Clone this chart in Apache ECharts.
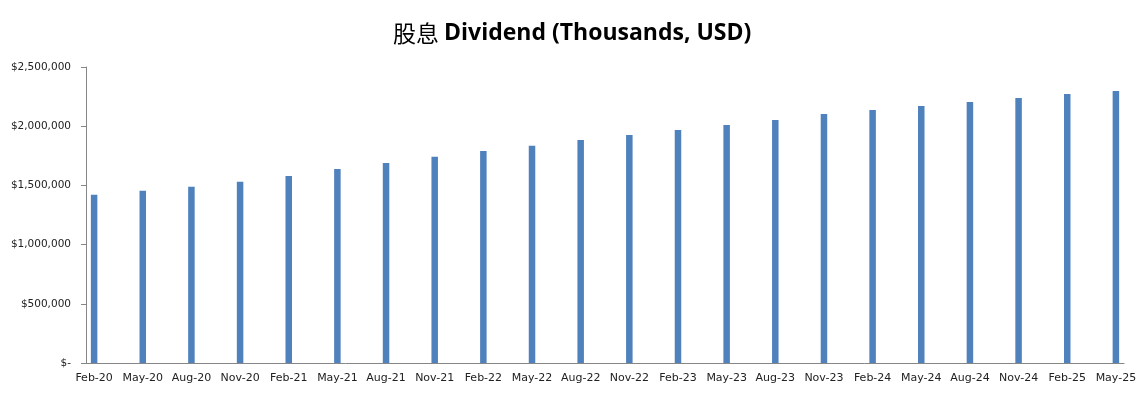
<!DOCTYPE html>
<html>
<head>
<meta charset="utf-8">
<script src="https://cdn.jsdelivr.net/npm/echarts@6/dist/echarts.min.js"></script>
<style>
  html, body { margin: 0; padding: 0; background: #fff; }
  #main { width: 1147px; height: 397px; }
</style>
</head>
<body>
<div id="main"></div>
<script>
// quarterly payout dates and dividend (thousands USD)
var quarters = ['Feb-20','May-20','Aug-20','Nov-20','Feb-21','May-21','Aug-21','Nov-21',
  'Feb-22','May-22','Aug-22','Nov-22','Feb-23','May-23','Aug-23','Nov-23',
  'Feb-24','May-24','Aug-24','Nov-24','Feb-25','May-25'];
var dividend = [1420000,1454000,1488000,1530000,1580000,1639000,1690000,1741000,
  1791000,1834000,1884000,1926000,1968000,2011000,2053000,2103000,
  2137000,2171000,2205000,2238000,2272000,2298000];
var yTicks = [0, 500000, 1000000, 1500000, 2000000, 2500000];

// axis is monthly (date axis), so each quarter takes 3 slots, last one only its own month
var months = [];
var barData = [];
for (var i = 0; i < quarters.length; i++) {
  months.push(quarters[i]);
  barData.push(dividend[i]);
  if (i < quarters.length - 1) {
    months.push(quarters[i] + ' +1', quarters[i] + ' +2');
    barData.push('-', '-');
  }
}

function money(v) {
  if (v === 0) return '$-';
  return '$' + v.toString().replace(/\B(?=(\d{3})+(?!\d))/g, ',');
}

var myChart = echarts.init(document.getElementById('main'));
var option = {
  backgroundColor: '#fff',
  animation: false,
  title: {
    text: '{cn|股息} {en|Dividend (Thousands, USD)}',
    left: 388,
    top: 17,
    textStyle: {
      rich: {
        cn: { fontFamily: 'Noto Sans CJK SC', fontSize: 23, fontWeight: 'normal', color: '#000' },
        en: { fontFamily: 'Open Sans', fontSize: 23, fontWeight: 'bold', color: '#000' }
      }
    }
  },
  grid: { left: 86, right: 23, top: 67, bottom: 34 },
  xAxis: {
    type: 'category',
    data: months,
    boundaryGap: true,
    axisLine: { lineStyle: { color: '#868686', width: 1 } },
    axisTick: { interval: 2, length: 5, lineStyle: { color: '#868686' } },
    axisLabel: {
      interval: 2,
      margin: 10,
      fontFamily: 'DejaVu Sans',
      fontSize: 11,
      color: '#222'
    },
    splitLine: { show: false }
  },
  yAxis: {
    type: 'value',
    min: yTicks[0],
    max: yTicks[yTicks.length - 1],
    interval: yTicks[1] - yTicks[0],
    axisLine: { show: true, lineStyle: { color: '#868686', width: 1 } },
    axisTick: { show: true, length: 5, lineStyle: { color: '#868686' } },
    axisLabel: {
      margin: 15,
      fontFamily: 'DejaVu Sans',
      fontSize: 10.5,
      color: '#222',
      formatter: money
    },
    splitLine: { show: false }
  },
  series: [{
    name: 'Dividend',
    type: 'bar',
    data: barData,
    barWidth: 6.5,
    itemStyle: { color: '#4F81BD' }
  }]
};
myChart.setOption(option);
</script>
</body>
</html>
